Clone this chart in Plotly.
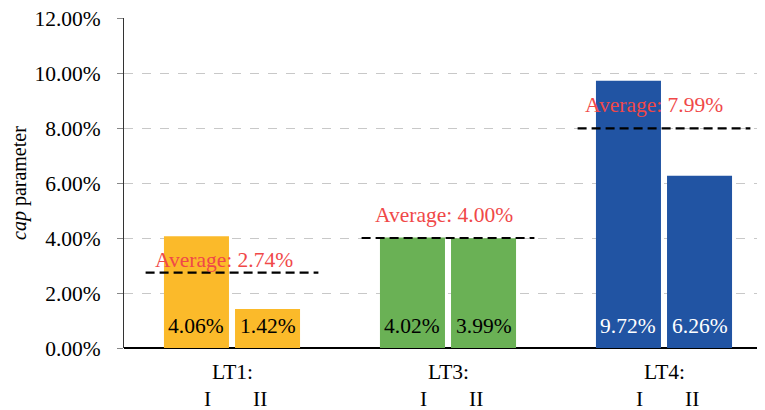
import plotly.graph_objects as go

groups = ["LT1:", "LT3:", "LT4:"]
values_I = [0.0406, 0.0402, 0.0972]
values_II = [0.0142, 0.0399, 0.0626]
averages = [0.0274, 0.0400, 0.0799]
bar_colors = ["#FBBA2A", "#6AB155", "#2154A3"]
label_colors = ["black", "black", "white"]
y_ticks = [0, 0.02, 0.04, 0.06, 0.08, 0.10, 0.12]
y_tick_labels = ["0.00%", "2.00%", "4.00%", "6.00%", "8.00%", "10.00%", "12.00%"]

# style / placement constants
avg_label_yshift = [13, 23, 23]
avg_label_xshift = [-8, -4, -10]

FONT = "Liberation Serif, Times New Roman, serif"
FS = 21.5
BW = 0.301
GAP = 0.014
idx = list(range(len(groups)))

# page body has an 8px margin; compensate
W, H = 757, 402
L, T = 116, 10
PW = W - L          # plot width
PB = 340            # plot bottom in figure coords
PH = PB - T

fig = go.Figure()
fig.add_trace(go.Bar(x=idx, y=values_I, width=BW, offset=-GAP - BW,
                     marker=dict(color=bar_colors, line=dict(width=0)), showlegend=False, hoverinfo="skip"))
fig.add_trace(go.Bar(x=idx, y=values_II, width=BW, offset=GAP,
                     marker=dict(color=bar_colors, line=dict(width=0)), showlegend=False, hoverinfo="skip"))

annotations = []
shapes = []
for i, g in enumerate(groups):
    for v, off in ((values_I[i], -GAP - BW / 2), (values_II[i], GAP + BW / 2)):
        annotations.append(dict(x=i + off, y=0, xref="x", yref="y", text=f"{v*100:.2f}%",
                                showarrow=False, yanchor="middle", yshift=22,
                                font=dict(family=FONT, size=FS, color=label_colors[i])))
    shapes.append(dict(type="line", xref="x", yref="y", x0=i - 0.4, x1=i + 0.4,
                       y0=averages[i], y1=averages[i],
                       line=dict(color="black", width=2.2, dash="9px,5px")))
    annotations.append(dict(x=i, y=averages[i], xref="x", yref="y", text=f"Average: {averages[i]*100:.2f}%",
                            showarrow=False, yanchor="middle", yshift=avg_label_yshift[i],
                            xshift=avg_label_xshift[i],
                            font=dict(family=FONT, size=FS, color="#F04848")))
    annotations.append(dict(x=i, y=0, xref="x", yref="y", text=g, showarrow=False,
                            yanchor="middle", yshift=-24, font=dict(family=FONT, size=FS, color="black")))
    annotations.append(dict(x=i - 0.115, y=0, xref="x", yref="y", text="I", showarrow=False,
                            yanchor="middle", yshift=-51, font=dict(family=FONT, size=FS, color="black")))
    annotations.append(dict(x=i + 0.13, y=0, xref="x", yref="y", text="II", showarrow=False,
                            yanchor="middle", yshift=-51, font=dict(family=FONT, size=FS, color="black")))

annotations.append(dict(x=(11 - L) / PW, y=(PB - 175) / PH, xref="paper", yref="paper",
                        text="<i>cap</i> parameter",
                        showarrow=False, textangle=-90, xanchor="center", yanchor="middle",
                        font=dict(family=FONT, size=20, color="black")))

fig.update_layout(
    width=W, height=H,
    margin=dict(l=L, r=0, t=T, b=H - PB, autoexpand=False),
    paper_bgcolor="white", plot_bgcolor="white",
    barmode="overlay",
    font=dict(family=FONT, size=FS, color="black"),
    annotations=annotations, shapes=shapes,
    xaxis=dict(range=[-0.5, -0.5 + PW / 216], showticklabels=False, showgrid=False,
               zeroline=False, showline=False, ticks="", automargin=False),
    yaxis=dict(range=[0, 0.12], tickvals=y_ticks, ticktext=y_tick_labels,
               showgrid=True, gridcolor="#C8C8C8", gridwidth=1, griddash="dash",
               showline=True, linecolor="#333333", linewidth=1,
               ticks="outside", ticklen=6, tickcolor="#888888",
               ticklabelstandoff=12, automargin=False, ticklabeloverflow="allow",
               tickfont=dict(family=FONT, size=FS),
               zeroline=True, zerolinecolor="black", zerolinewidth=1.5),
)

fig.write_html("out.html")
